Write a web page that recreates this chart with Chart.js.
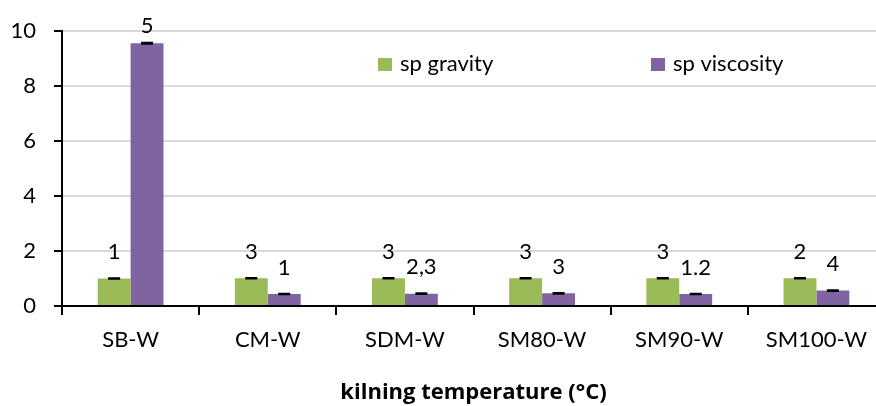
<!DOCTYPE html>
<html>
<head>
<meta charset="utf-8">
<script src="https://cdn.jsdelivr.net/npm/chart.js@4/dist/chart.umd.min.js"></script>
<style>
  html, body { margin: 0; padding: 0; background: #fff; overflow: hidden; }
  #wrap { width: 890px; height: 406px; }
</style>
</head>
<body>
<div id="wrap"><canvas id="myChart" width="890" height="406"></canvas></div>
<script>
// 데이터
var categories = ['SB-W', 'CM-W', 'SDM-W', 'SM80-W', 'SM90-W', 'SM100-W'];
var gravityValues = [1.00, 1.01, 1.01, 1.01, 1.01, 1.01];
var viscosityValues = [9.56, 0.44, 0.45, 0.46, 0.44, 0.56];
var gravityErr = [0.01, 0.01, 0.01, 0.01, 0.01, 0.01];
var viscosityErr = [0.02, 0.01, 0.01, 0.01, 0.01, 0.01];
var gravityLetters = ['1', '3', '3', '3', '3', '2'];
var viscosityLetters = ['5', '1', '2,3', '3', '1.2', '4'];
var yTicks = [0, 2, 4, 6, 8, 10];

var FONT = 'Lato, "Open Sans", sans-serif';

// 에러바 + 문자 라벨 + 범례
var extrasPlugin = {
  id: 'extras',
  afterDatasetsDraw: function(chart) {
    var ctx = chart.ctx;
    var yScale = chart.scales.y;
    var errs = [gravityErr, viscosityErr];
    var letters = [gravityLetters, viscosityLetters];

    chart.data.datasets.forEach(function(ds, di) {
      var meta = chart.getDatasetMeta(di);
      meta.data.forEach(function(bar, i) {
        var v = ds.data[i];
        var yHi = yScale.getPixelForValue(v + errs[di][i]);
        var yLo = yScale.getPixelForValue(v - errs[di][i]);
        ctx.save();
        ctx.strokeStyle = '#000';
        ctx.lineWidth = 2;
        ctx.beginPath();
        ctx.moveTo(bar.x - 6, yHi); ctx.lineTo(bar.x + 6, yHi);
        ctx.moveTo(bar.x - 6, yLo); ctx.lineTo(bar.x + 6, yLo);
        ctx.moveTo(bar.x, yHi); ctx.lineTo(bar.x, yLo);
        ctx.stroke();

        // 문자 라벨
        var ty = Math.max(yHi - 26, 26);
        ctx.fillStyle = '#000';
        ctx.font = '22px ' + FONT;
        ctx.textAlign = 'center';
        ctx.textBaseline = 'middle';
        ctx.fillText(letters[di][i], bar.x, ty);
        ctx.restore();
      });
    });

    // 범례 (플롯 안쪽)
    var legendX = [378, 651];
    ctx.save();
    chart.data.datasets.forEach(function(ds, di) {
      ctx.fillStyle = ds.backgroundColor;
      ctx.fillRect(legendX[di], 58, 14, 13);
      ctx.fillStyle = '#000';
      ctx.font = '22px ' + FONT;
      ctx.textAlign = 'left';
      ctx.textBaseline = 'middle';
      ctx.fillText(ds.label, legendX[di] + 22, 64);
    });
    ctx.restore();
  }
};

new Chart(document.getElementById('myChart'), {
  type: 'bar',
  data: {
    labels: categories,
    datasets: [
      {
        label: 'sp gravity',
        data: gravityValues,
        backgroundColor: '#9BBB59',
        categoryPercentage: 0.48,
        barPercentage: 1.0
      },
      {
        label: 'sp viscosity',
        data: viscosityValues,
        backgroundColor: '#8064A2',
        categoryPercentage: 0.48,
        barPercentage: 1.0
      }
    ]
  },
  options: {
    responsive: false,
    animation: false,
    layout: { padding: { top: 26, right: 5, left: 0, bottom: 0 } },
    plugins: {
      legend: { display: false },
      tooltip: { enabled: false }
    },
    scales: {
      x: {
        grid: { drawOnChartArea: false, drawTicks: true, tickLength: 9, tickColor: '#000', lineWidth: 2 },
        border: { color: '#000', width: 2 },
        ticks: { color: '#000', font: { family: FONT, size: 22 }, padding: 12 },
        title: {
          display: true,
          text: 'kilning temperature (°C)',
          color: '#000',
          font: { family: '"Open Sans", Lato, sans-serif', size: 22, weight: 'bold' },
          padding: { top: 0, bottom: 0 }
        },
        afterFit: function(scale) { scale.height = 100; }
      },
      y: {
        min: 0,
        max: 10,
        afterBuildTicks: function(scale) {
          scale.ticks = yTicks.map(function(v) { return { value: v }; });
        },
        grid: {
          color: function(c) { return c.tick && c.tick.value === 0 ? '#000' : '#d9d9d9'; },
          lineWidth: 2,
          tickLength: 8,
          tickColor: '#000'
        },
        border: { color: '#000', width: 2 },
        ticks: { color: '#000', font: { family: FONT, size: 22 }, padding: 18 },
        afterFit: function(scale) { scale.width = 62; }
      }
    }
  },
  plugins: [extrasPlugin]
});
</script>
</body>
</html>
